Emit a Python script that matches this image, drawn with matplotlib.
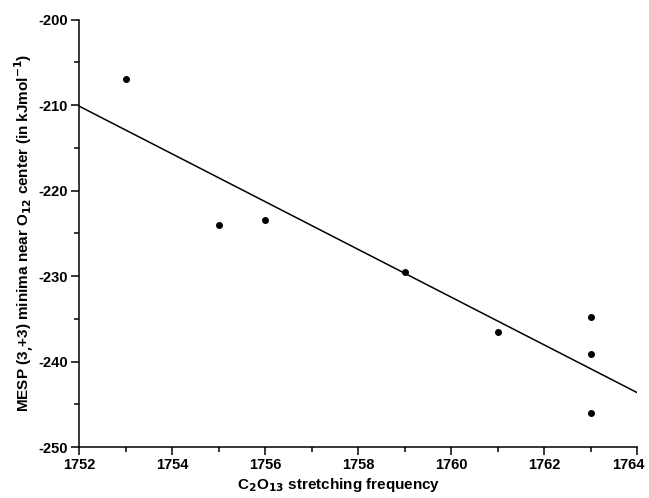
import numpy as np
import matplotlib
matplotlib.use("Agg")
import matplotlib.pyplot as plt
import matplotlib.transforms as mtransforms
from matplotlib.ticker import MultipleLocator

plt.rcParams['font.family'] = ['Liberation Sans', 'DejaVu Sans']
plt.rcParams['font.weight'] = 'bold'
plt.rcParams['axes.unicode_minus'] = False
plt.rcParams['mathtext.default'] = 'bf'

# C=O stretching frequency vs MESP minima values
freq = [1753, 1755, 1756, 1759, 1761, 1763, 1763, 1763]
mesp = [-206.9, -224.0, -223.4, -229.5, -236.6, -234.8, -239.1, -246.0]

fig = plt.figure(figsize=(6.49, 4.98), dpi=100)
ax = fig.add_axes([0.1222, 0.1024, 0.8598, 0.8584])

ax.plot(freq, mesp, 'o', color='black', markersize=4)

# linear fit through the points
k, b = np.polyfit(freq, mesp, 1)
xl = np.array([1752, 1764])
ax.plot(xl, k * xl + b, color='black', linewidth=1.1)

ax.set_xlim(1752, 1764)
ax.set_ylim(-250, -200)
ax.xaxis.set_major_locator(MultipleLocator(2))
ax.xaxis.set_minor_locator(MultipleLocator(1))
ax.yaxis.set_major_locator(MultipleLocator(10))
ax.yaxis.set_minor_locator(MultipleLocator(5))

ax.spines['top'].set_visible(False)
ax.spines['right'].set_visible(False)
for s in ['left', 'bottom']:
    ax.spines[s].set_linewidth(1.1)
ax.tick_params(which='major', direction='out', length=6, width=1.1, labelsize=10.5, pad=2)
ax.tick_params(which='minor', direction='out', length=3.5, width=1.1)
for t in ax.get_xticklabels() + ax.get_yticklabels():
    t.set_fontweight('bold')

# keep the last x tick label inside the figure
fig.canvas.draw()
for tick in ax.xaxis.get_major_ticks():
    if abs(tick.get_loc() - 1764) < 1e-6:
        lab = tick.label1
        lab.set_transform(lab.get_transform() +
                          mtransforms.ScaledTranslation(-9 / 100, 0, fig.dpi_scale_trans))

ax.set_xlabel('C$_{2}$O$_{13}$ stretching frequency', fontsize=11, fontweight='bold', labelpad=3)
ax.xaxis.label.set_x(0.464)
ax.set_ylabel('MESP (3$_{,}$+3) minima near O$_{12}$ center (in kJmol$^{-1}$)',
              fontsize=11, fontweight='bold', labelpad=2)

plt.savefig('out.png', dpi=100)
